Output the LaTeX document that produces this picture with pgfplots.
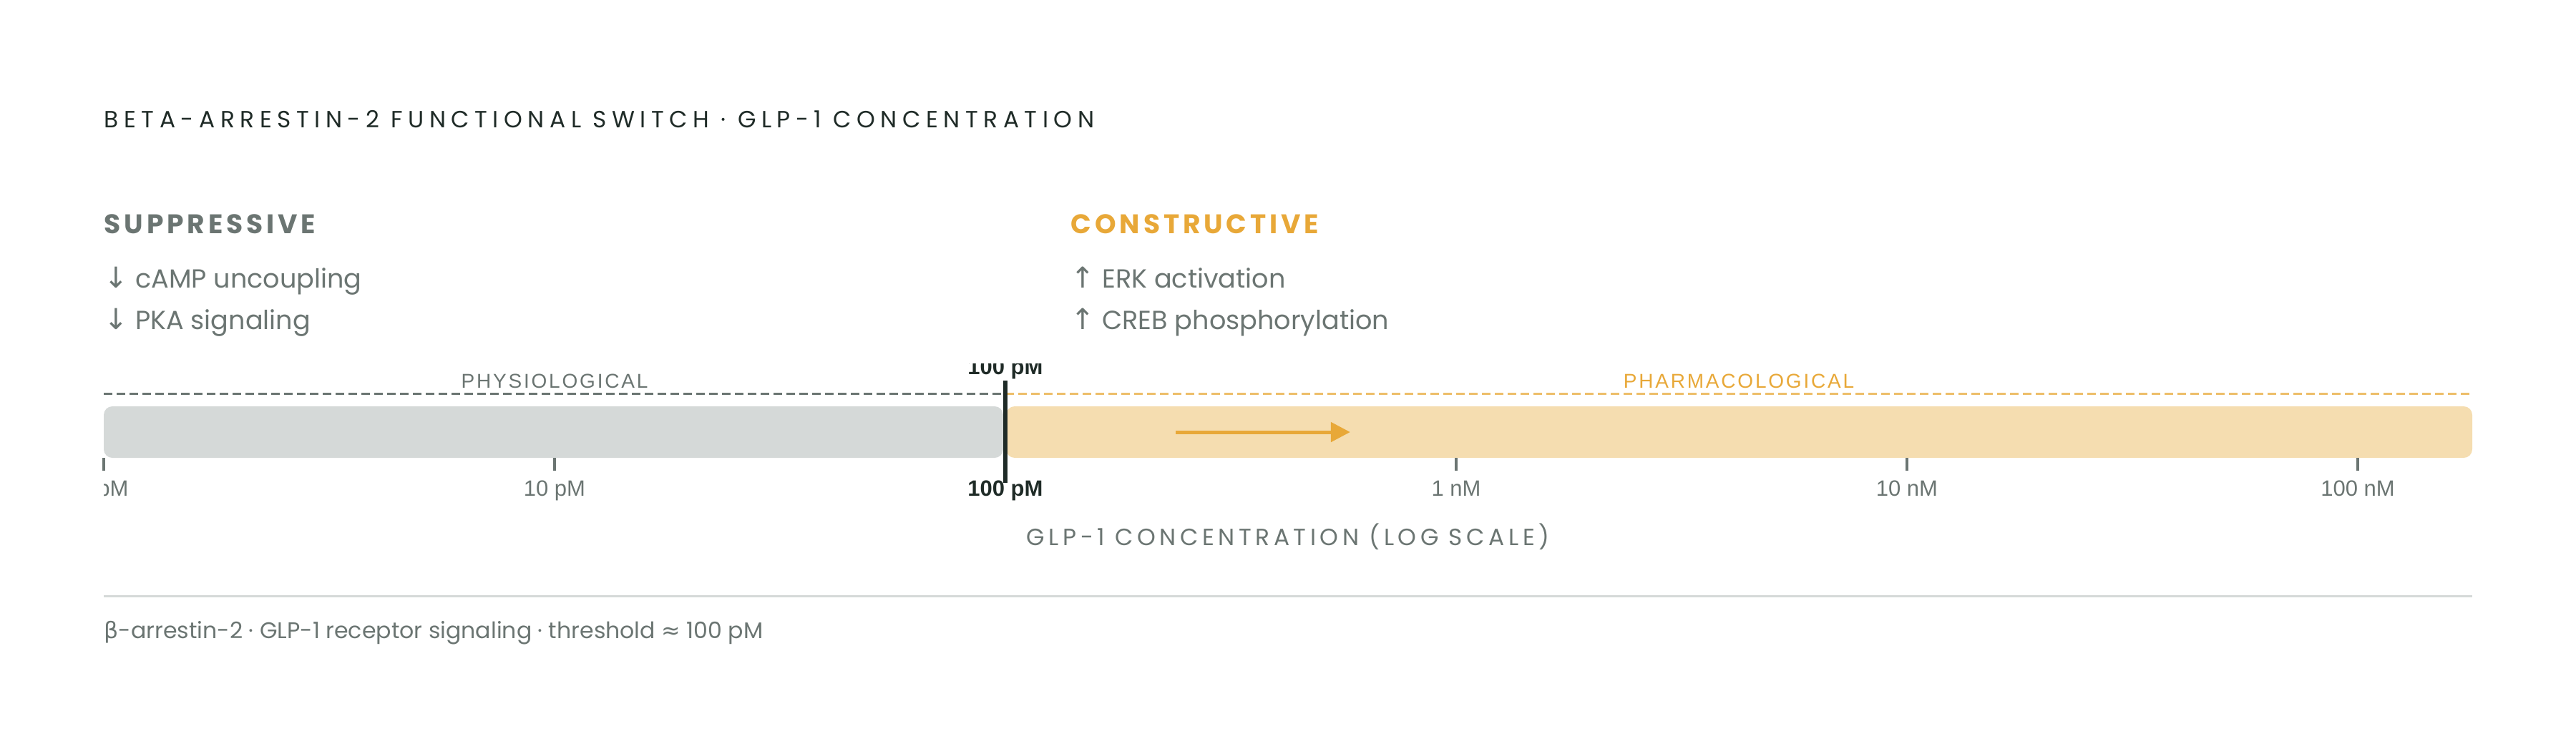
\documentclass[border=0pt]{standalone}
\usepackage{fontspec}
\usepackage{pgfplots}
\pgfplotsset{compat=1.18}
\usetikzlibrary{arrows.meta}
\setmainfont{Poppins}
\newfontfamily\dm{Poppins}
\newfontfamily\dmtitle[LetterSpace=23]{Poppins}
\newfontfamily\dmhead[LetterSpace=13]{Poppins}
\newfontfamily\dmaxis[LetterSpace=17]{Poppins}
\newfontfamily\arial{Liberation Sans}
\newfontfamily\arialsp[LetterSpace=10]{Liberation Sans}
\newfontfamily\sym{DejaVu Sans}
\newfontfamily\arr[Scale=1.1]{DejaVu Sans}
\definecolor{dark}{HTML}{1F2B27}
\definecolor{graytxt}{HTML}{6B7572}
\definecolor{graybar}{HTML}{D5D9D8}
\definecolor{orng}{HTML}{E8A838}
\definecolor{orngbar}{HTML}{F5DDB0}
\definecolor{orngdash}{HTML}{EDBE6A}
\definecolor{rule}{HTML}{D5D9D8}
\begin{document}
\begin{tikzpicture}
\useasboundingbox (0,0) rectangle (900pt,263.25pt);
\begin{axis}[at={(36.25pt,0pt)}, anchor=south west,
  width=827.5pt, height=263.25pt, scale only axis,
  xmode=log, xmin=1, xmax=179500, ymin=0, ymax=1053, y dir=reverse,
  axis lines=none, clip=false]
% header texts
\node[anchor=base west, inner sep=0pt, text=dark, font=\dmtitle\fontsize{8.2}{9}\selectfont] at (axis cs:1,178) {BETA-ARRESTIN-2 FUNCTIONAL SWITCH · GLP-1 CONCENTRATION};
\node[anchor=base west, inner sep=0pt, text=graytxt, font=\dmhead\bfseries\fontsize{9.4}{11}\selectfont] at (axis cs:1,326) {SUPPRESSIVE};
\node[anchor=base west, inner sep=0pt, text=graytxt, font=\dm\fontsize{9.15}{11}\selectfont] at (axis cs:1,402) {{\arr ↓} cAMP uncoupling};
\node[anchor=base west, inner sep=0pt, text=graytxt, font=\dm\fontsize{9.15}{11}\selectfont] at (axis cs:1,460) {{\arr ↓} PKA signaling};
\node[anchor=base west, inner sep=0pt, text=orng, font=\dmhead\bfseries\fontsize{9.4}{11}\selectfont] at (axis cs:139.5,326) {CONSTRUCTIVE};
\node[anchor=base west, inner sep=0pt, text=graytxt, font=\dm\fontsize{9.15}{11}\selectfont] at (axis cs:139.5,402) {{\arr ↑} ERK activation};
\node[anchor=base west, inner sep=0pt, text=graytxt, font=\dm\fontsize{9.15}{11}\selectfont] at (axis cs:139.5,460) {{\arr ↑} CREB phosphorylation};
% zone labels
\node[anchor=base, inner sep=0pt, text=graytxt, font=\arialsp\fontsize{7}{8}\selectfont] at (axis cs:10,542) {PHYSIOLOGICAL};
\node[anchor=base, inner sep=0pt, text=orng, font=\arialsp\fontsize{7}{8}\selectfont] at (axis cs:4237,542) {PHARMACOLOGICAL};
% dashed zone lines
\addplot[graytxt, line width=0.75pt, dash pattern=on 3pt off 1.5pt] coordinates {(1,550) (100,550)};
\addplot[orngdash, line width=0.75pt, dash pattern=on 3pt off 1.5pt] coordinates {(100,550) (179500,550)};
% bars
\addplot[fill=graybar, draw=none, rounded corners=3pt] coordinates {(1,568) (98.9,568) (98.9,640) (1,640)} --cycle;
\addplot[fill=orngbar, draw=none, rounded corners=3pt] coordinates {(100.4,568) (179500,568) (179500,640) (100.4,640)} --cycle;
% arrow
\addplot[orng, line width=1.25pt, -{Triangle[length=6.75pt,width=6.75pt]}] coordinates {(239,604) (582,604)};
% ticks
\pgfplotsinvokeforeach{1,10,1000,10000,100000}{
  \addplot[graytxt, line width=0.8pt] coordinates {(#1,640) (#1,658)};
}
% threshold
\addplot[dark, line width=1.5pt] coordinates {(100,532) (100,675)};
\begin{scope}
\clip (axis cs:1,508) rectangle (axis cs:179500,760);
\node[anchor=base, inner sep=0pt, text=dark, font=\arial\bfseries\fontsize{7.75}{9}\selectfont] at (axis cs:100,523) {100 pM};
\node[anchor=base, inner sep=0pt, text=graytxt, font=\arial\fontsize{7.75}{9}\selectfont] at (axis cs:1,693) {1 pM};
\end{scope}
\node[anchor=base, inner sep=0pt, text=graytxt, font=\arial\fontsize{7.75}{9}\selectfont] at (axis cs:10,693) {10 pM};
\node[anchor=base, inner sep=0pt, text=dark, font=\arial\bfseries\fontsize{7.75}{9}\selectfont] at (axis cs:100,693) {100 pM};
\node[anchor=base, inner sep=0pt, text=graytxt, font=\arial\fontsize{7.75}{9}\selectfont] at (axis cs:1000,693) {1 nM};
\node[anchor=base, inner sep=0pt, text=graytxt, font=\arial\fontsize{7.75}{9}\selectfont] at (axis cs:10000,693) {10 nM};
\node[anchor=base, inner sep=0pt, text=graytxt, font=\arial\fontsize{7.75}{9}\selectfont] at (axis cs:100000,693) {100 nM};
% axis label
\node[anchor=base, inner sep=0pt, text=graytxt, font=\dmaxis\fontsize{8.2}{9}\selectfont] at (axis cs:423.7,762) {GLP-1 CONCENTRATION (LOG SCALE)};
% rule and footer
\addplot[rule, line width=0.75pt] coordinates {(1,833) (179500,833)};
\node[anchor=base west, inner sep=0pt, text=graytxt, font=\dm\fontsize{7.9}{9}\selectfont] at (axis cs:1,892) {{\sym β}-arrestin-2 · GLP-1 receptor signaling · threshold {\sym ≈} 100 pM};
\end{axis}
\end{tikzpicture}
\end{document}
